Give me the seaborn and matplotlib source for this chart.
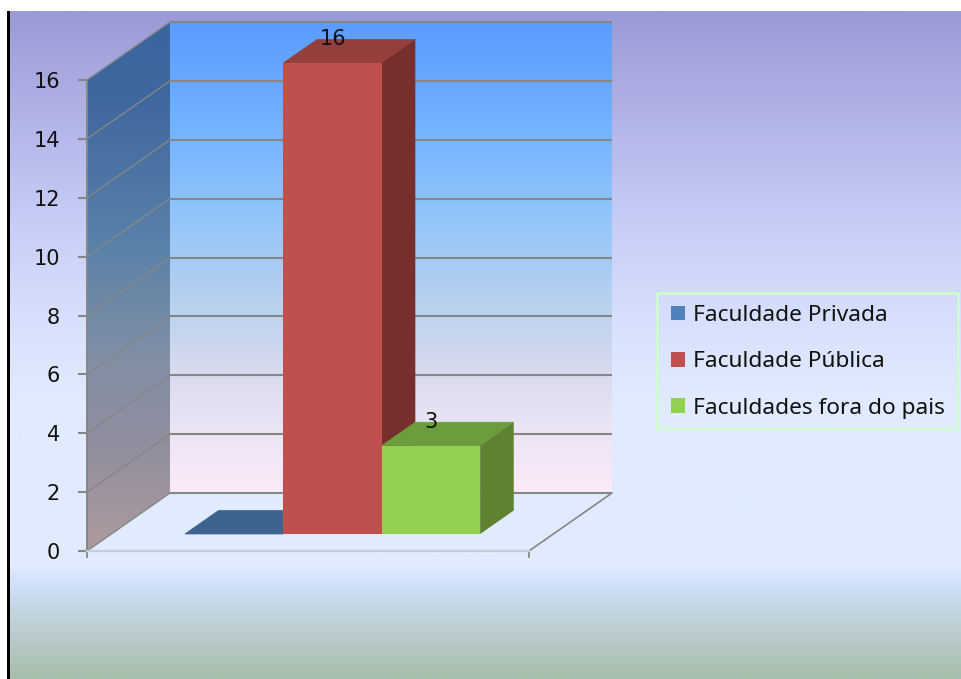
import numpy as np
import pandas as pd
import matplotlib
matplotlib.use("Agg")
import matplotlib.pyplot as plt
import seaborn as sns
from matplotlib.colors import LinearSegmentedColormap as LSC
from matplotlib.patches import Polygon, Rectangle
from matplotlib.transforms import Affine2D, IdentityTransform

categories = ["Faculdade Privada", "Faculdade Pública", "Faculdades fora do pais"]
values = [0, 16, 3]
group = ["Faculdades"] * 3
y_ticks = [0, 2, 4, 6, 8, 10, 12, 14, 16]

front_colors = ["#4f81bd", "#c0504d", "#92d050"]
top_colors = ["#3d638f", "#943f3b", "#6d9c3c"]
side_colors = ["#375a85", "#772f2d", "#5e8232"]

W, H = 961, 679
fig = plt.figure(figsize=(W / 100, H / 100), dpi=100, facecolor="white")
sns.set_theme(style="white")
plt.rcParams["font.family"] = ["DejaVu Sans"]


def grad(stops, y0, y1):
    pos = [(y - y0) / (y1 - y0) for y, _ in stops]
    cmap = LSC.from_list("g", list(zip(pos, [c for _, c in stops])))
    return cmap(np.linspace(0, 1, 256))[:, None, :3]


# figure background
bg = fig.add_axes([0, 0, 1, 1], zorder=0)
bg.set_xlim(0, W); bg.set_ylim(H, 0); bg.axis("off")
bg_stops = [(11, "#9a9ad6"), (100, "#aeb0e4"), (230, "#c8cff8"), (330, "#d8e2fd"),
            (400, "#e0ebff"), (565, "#e0ebff"), (590, "#cfdef7"), (620, "#c0d2da"),
            (650, "#b4c7c2"), (679, "#a9bfab")]
bg.imshow(grad(bg_stops, 11, 679), extent=(7, W, H, 11), aspect="auto")
bg.set_xlim(0, W); bg.set_ylim(H, 0)
bg.add_patch(Rectangle((7, 11), 3, H - 11, color="black", lw=0))
# legend frame
bg.add_patch(Rectangle((657, 293), 301, 135, fc="none", ec="#ccffcc", lw=1.8, zorder=3))

# main axes = front plane of the 3D box
L, R, T, B = 87, 529, 80, 551
ax = fig.add_axes([L / W, 1 - B / H, (R - L) / W, (B - T) / H], zorder=1)
ax.patch.set_visible(False)

df = pd.DataFrame({"grupo": group, "categoria": categories, "valor": values})
sns.barplot(data=df, x="grupo", y="valor", hue="categoria", hue_order=categories,
            palette=front_colors, width=0.668, gap=0, saturation=1, legend=False,
            ax=ax, zorder=5)
ax.set_xlim(-0.5, 0.5)
ax.set_ylim(0, 16)
ax.set_xlabel(""); ax.set_ylabel("")

DX, DY = 83, 58
GRID = "#868686"


def pt(x, y, k=0.0):
    p = ax.transData.transform((x, y))
    return (p[0] + DX * k, p[1] + DY * k)


ID = IdentityTransform()
x0, x1 = -0.5, 0.5
ymax = y_ticks[-1]

# floor
ax.add_patch(Polygon([pt(x0, 0), pt(x1, 0), pt(x1, 0, 1), pt(x0, 0, 1)], transform=ID,
                     fc="#e0ebff", ec="none", zorder=1, clip_on=False))

# back wall
back_stops = [(22, "#5b9cff"), (115, "#6fb0ff"), (210, "#90c4fb"), (305, "#b8d2ee"),
              (375, "#dadbee"), (430, "#ebe5f5"), (493, "#fdeafa")]
bx0, by0 = pt(x0, 0, 1)
bx1, by1 = pt(x1, ymax, 1)
ax.imshow(grad(back_stops, 22, 493), extent=(bx0, bx1, by0, by1), aspect="auto",
          transform=ID, origin="upper", zorder=1.2, clip_on=False)

# side wall
side_stops = [(22, "#3b65a0"), (100, "#3f689f"), (250, "#5b82a8"), (350, "#7f8ea5"),
              (450, "#928f9e"), (551, "#ae9aa0")]
sx0 = pt(x0, 0)[0]; sx1 = bx0
sy0 = pt(x0, 0)[1]; sy1 = by1
side_img = ax.imshow(grad(side_stops, 22, 551), extent=(sx0, sx1, sy0, sy1), aspect="auto",
                     transform=ID, origin="upper", zorder=1.3)
side_poly = Polygon([pt(x0, 0), pt(x0, ymax), pt(x0, ymax, 1), pt(x0, 0, 1)], transform=ID,
                    fc="none", ec="none", clip_on=False)
ax.add_patch(side_poly)
side_img.set_clip_box(fig.bbox)
side_img.set_clip_path(side_poly)
ax.set_xlim(x0, x1); ax.set_ylim(0, ymax)
ax.set_aspect("auto")

# gridlines
for t in y_ticks:
    a, b, c = pt(x0, t), pt(x0, t, 1), pt(x1, t, 1)
    if t > 0:
        ax.plot([a[0], b[0]], [a[1], b[1]], transform=ID, color=GRID, lw=1.0, zorder=2, clip_on=False)
    ax.plot([b[0], c[0]], [b[1], c[1]], transform=ID, color=GRID, lw=1.5, zorder=2,
            clip_on=False, solid_capstyle="butt")
a, b = pt(x0, 0), pt(x0, 0, 1)
ax.plot([a[0], b[0]], [a[1], b[1]], transform=ID, color=GRID, lw=1.0, zorder=2, clip_on=False)
a, b = pt(x1, 0), pt(x1, 0, 1)
ax.plot([a[0], b[0]], [a[1], b[1]], transform=ID, color=GRID, lw=1.2, zorder=2, clip_on=False)

# bars with depth
KD = 0.405
OFF_X, OFF_Y = 24.5, 17


def bpt(x, y, k=0.0):
    p = pt(x, y)
    return (p[0] + OFF_X + DX * k, p[1] + OFF_Y + DY * k)


bars = [p for p in ax.patches if isinstance(p, Rectangle) and p.get_width() < 0.5]
bars = sorted(bars, key=lambda p: p.get_x())
for i, (bar, val) in enumerate(zip(bars, values)):
    bar.set_transform(ax.transData + Affine2D().translate(OFF_X, OFF_Y))
    bar.set_zorder(5 + i + 0.3)
    bar.set_clip_on(False)
    bar.set_linewidth(0)
    l, r = bar.get_x(), bar.get_x() + bar.get_width()
    ax.add_patch(Polygon([bpt(l, val), bpt(r, val), bpt(r, val, KD), bpt(l, val, KD)], transform=ID,
                         fc=top_colors[i], ec=top_colors[i], lw=0.5, zorder=5 + i + 0.1, clip_on=False))
    if val > 0:
        ax.add_patch(Polygon([bpt(r, 0), bpt(r, val), bpt(r, val, KD), bpt(r, 0, KD)], transform=ID,
                             fc=side_colors[i], ec="none", zorder=5 + i + 0.2, clip_on=False))
        ax.annotate(f"{val}", xy=(l + (r - l) / 2, val), xytext=(OFF_X, 41),
                    textcoords="offset pixels", ha="center", va="center",
                    fontsize=15, color="#111111", zorder=20, annotation_clip=False)

# axes decoration
sns.despine(ax=ax, top=True, right=True)
ax.spines["left"].set_color(GRID); ax.spines["left"].set_linewidth(1.4)
ax.spines["bottom"].set_color("#c6ced6"); ax.spines["bottom"].set_linewidth(1.6)
ax.set_yticks(y_ticks)
ax.set_xticks([x0, x1]); ax.set_xticklabels(["", ""])
ax.tick_params(axis="y", length=6.5, width=1.5, color=GRID, pad=13, labelsize=15, labelcolor="#111111", left=True)
ax.tick_params(axis="x", length=5, width=1.3, color=GRID, bottom=True)

# legend
handles = [Rectangle((0, 0), 1, 1, fc=c, ec="none") for c in front_colors]
leg = fig.legend(handles, categories, loc="upper left",
                 bbox_to_anchor=(671 / W, 1 - 305 / H), bbox_transform=fig.transFigure,
                 prop={"family": "Noto Sans", "size": 16.3}, frameon=False,
                 borderaxespad=0, borderpad=0,
                 handlelength=0.63, handleheight=0.63, handletextpad=0.36,
                 labelspacing=1.12, labelcolor="#111111")
leg.set_zorder(10)

fig.savefig("out.png", dpi=100, facecolor="white")
